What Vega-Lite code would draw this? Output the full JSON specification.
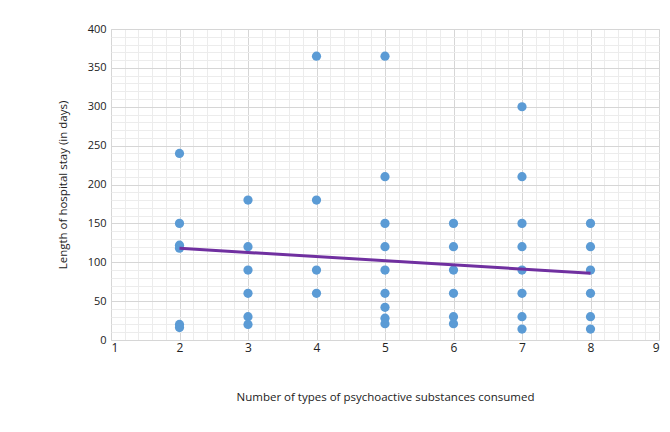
{
  "$schema": "https://vega.github.io/schema/vega-lite/v6.json",
  "autosize": "none",
  "width": 548,
  "height": 311,
  "padding": {"left": 111, "top": 29, "right": 11, "bottom": 92},
  "background": "white",
  "config": {
    "font": "Open Sans",
    "view": {"stroke": "#d9d9d9", "strokeWidth": 1},
    "axis": {"labelFont": "Open Sans", "titleFont": "Open Sans", "labelColor": "#222", "titleColor": "#222", "titleFontWeight": "normal", "labelFontSize": 11, "titleFontSize": 11.5}
  },
  "datasets": {
    "pts": [
      {"n": 2, "days": 240}, {"n": 2, "days": 150}, {"n": 2, "days": 122}, {"n": 2, "days": 118}, {"n": 2, "days": 20}, {"n": 2, "days": 16},
      {"n": 3, "days": 180}, {"n": 3, "days": 120}, {"n": 3, "days": 90}, {"n": 3, "days": 60}, {"n": 3, "days": 30}, {"n": 3, "days": 20},
      {"n": 4, "days": 365}, {"n": 4, "days": 180}, {"n": 4, "days": 90}, {"n": 4, "days": 60},
      {"n": 5, "days": 365}, {"n": 5, "days": 210}, {"n": 5, "days": 150}, {"n": 5, "days": 120}, {"n": 5, "days": 90}, {"n": 5, "days": 60}, {"n": 5, "days": 42}, {"n": 5, "days": 28}, {"n": 5, "days": 21},
      {"n": 6, "days": 150}, {"n": 6, "days": 120}, {"n": 6, "days": 90}, {"n": 6, "days": 60}, {"n": 6, "days": 30}, {"n": 6, "days": 21},
      {"n": 7, "days": 300}, {"n": 7, "days": 210}, {"n": 7, "days": 150}, {"n": 7, "days": 120}, {"n": 7, "days": 90}, {"n": 7, "days": 60}, {"n": 7, "days": 30}, {"n": 7, "days": 14},
      {"n": 8, "days": 150}, {"n": 8, "days": 120}, {"n": 8, "days": 90}, {"n": 8, "days": 60}, {"n": 8, "days": 30}, {"n": 8, "days": 14}
    ],
    "trend": [{"n": 2, "days": 118}, {"n": 8, "days": 86}]
  },
  "layer": [
    {
      "data": {"name": "trend"},
      "mark": {"type": "line", "opacity": 0},
      "encoding": {
        "x": {"field": "n", "type": "quantitative", "scale": {"domain": [1, 9]},
          "axis": {"values": [1.2,1.4,1.6,1.8,2.2,2.4,2.6,2.8,3.2,3.4,3.6,3.8,4.2,4.4,4.6,4.8,5.2,5.4,5.6,5.8,6.2,6.4,6.6,6.8,7.2,7.4,7.6,7.8,8.2,8.4,8.6,8.8], "grid": true, "gridColor": "#ececec", "gridWidth": 1, "labels": false, "ticks": false, "domain": false, "title": null, "orient": "top"}},
        "y": {"field": "days", "type": "quantitative", "scale": {"domain": [0, 400]},
          "axis": {"values": [10,20,30,40,60,70,80,90,110,120,130,140,160,170,180,190,210,220,230,240,260,270,280,290,310,320,330,340,360,370,380,390], "grid": true, "gridColor": "#ececec", "gridWidth": 1, "labels": false, "ticks": false, "domain": false, "title": null, "orient": "right"}}
      }
    },
    {
      "data": {"name": "pts"},
      "mark": {"type": "point", "filled": true, "opacity": 1, "size": 85, "color": "#5b9bd5"},
      "encoding": {
        "x": {"field": "n", "type": "quantitative", "scale": {"domain": [1, 9]},
          "axis": {"values": [1,2,3,4,5,6,7,8,9], "grid": true, "gridColor": "#d6d6d6", "labels": true, "ticks": false, "domain": false, "labelPadding": 2, "labelFontSize": 12, "title": "Number of types of psychoactive substances consumed", "titlePadding": 38, "orient": "bottom"}},
        "y": {"field": "days", "type": "quantitative", "scale": {"domain": [0, 400]},
          "axis": {"values": [0,50,100,150,200,250,300,350,400], "grid": true, "gridColor": "#d6d6d6", "ticks": false, "domain": false, "labelPadding": 5, "title": "Length of hospital stay (in days)", "titlePadding": 19, "orient": "left"}}
      }
    },
    {
      "data": {"name": "trend"},
      "mark": {"type": "line", "color": "#7030a0", "strokeWidth": 3},
      "encoding": {
        "x": {"field": "n", "type": "quantitative", "axis": null},
        "y": {"field": "days", "type": "quantitative", "axis": null}
      }
    }
  ],
  "resolve": {"axis": {"x": "independent", "y": "independent"}}
}
